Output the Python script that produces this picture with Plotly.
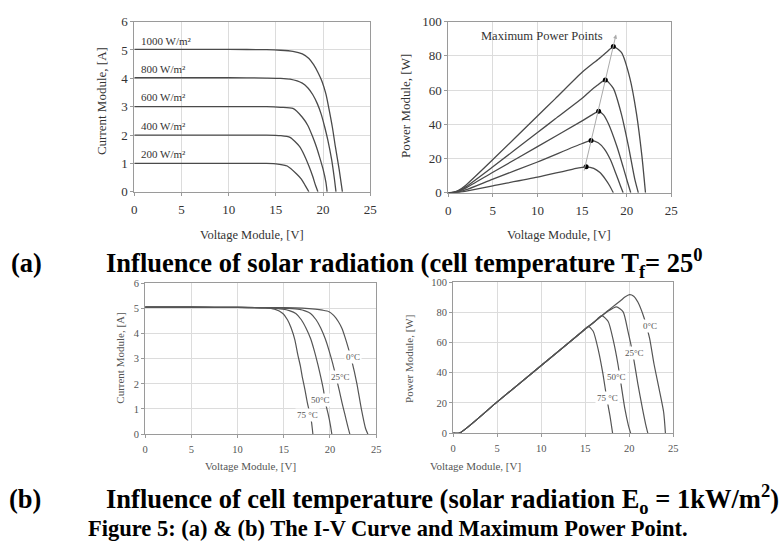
import plotly.graph_objects as go

W, H = 784, 552

# ---------------- data: (a) irradiance ----------------
irr_labels = ["1000 W/m²", "800 W/m²", "600 W/m²", "400 W/m²", "200 W/m²"]
irr_label_I = [5.33, 4.33, 3.33, 2.33, 1.33]

iv_V = [
    [0, 5, 10, 14, 15.5, 16.8, 17.8, 18.5, 19.0, 19.5, 19.9, 20.3, 20.6, 21.0, 21.3, 21.7, 22.05],
    [0, 5, 10, 14, 15.5, 16.5, 17.8, 18.4, 18.9, 19.4, 19.8, 20.2, 20.5, 20.9, 21.2, 21.37],
    [0, 5, 10, 14, 15.5, 16.8, 17.8, 18.4, 18.9, 19.3, 19.6, 20.0, 20.3, 20.43],
    [0, 5, 10, 14, 15.5, 16.5, 17.5, 18.0, 18.5, 18.9, 19.2, 19.46],
    [0, 5, 10, 14, 15.2, 16.2, 17.2, 17.7, 18.1, 18.5],
]
iv_I = [
    [5.02, 5.02, 5.02, 5.01, 4.99, 4.95, 4.86, 4.7, 4.48, 4.18, 3.88, 3.45, 2.97, 2.25, 1.6, 0.8, 0],
    [4.02, 4.02, 4.02, 4.01, 4.0, 3.97, 3.83, 3.66, 3.43, 3.1, 2.74, 2.25, 1.83, 1.15, 0.46, 0],
    [3.0, 3.0, 3.0, 3.0, 2.98, 2.94, 2.63, 2.33, 1.94, 1.58, 1.26, 0.8, 0.34, 0],
    [2.0, 2.0, 2.0, 2.0, 1.98, 1.92, 1.6, 1.3, 0.91, 0.55, 0.23, 0],
    [1.0, 1.0, 1.0, 1.0, 0.98, 0.91, 0.63, 0.45, 0.23, 0],
]

pv_V = [
    [0, 0.6, 1.2, 2, 5, 10, 12, 15, 16.85, 17.8, 18.5, 19.4, 20.35, 21.1, 21.7, 22.1],
    [0, 0.6, 1.2, 2, 5, 10, 12, 15, 15.7, 16.7, 17.6, 18.5, 19.4, 20.2, 20.9, 21.3],
    [0, 0.6, 1.2, 2, 5, 10, 15, 16, 16.85, 17.4, 17.95, 18.9, 19.6, 20.1, 20.45],
    [0, 0.6, 1.2, 2, 5, 10, 15, 16, 16.8, 17.5, 18.2, 18.8, 19.3, 19.6],
    [0, 0.6, 1.2, 2, 5, 10, 14, 15.45, 16.3, 17, 17.6, 18.1, 18.5],
]
pv_P = [
    [0, 0.4, 1.6, 4.6, 19.4, 44.9, 55, 70.4, 78.2, 82.4, 85.4, 82, 67, 46, 21.4, 0],
    [0, 0.3, 1.3, 3.6, 15.2, 35.2, 43.2, 55.2, 58.5, 62.8, 65.9, 61, 46, 27, 8, 0],
    [0, 0.2, 1.0, 2.9, 12, 27, 42, 45.2, 47.6, 45.5, 40.3, 27, 15, 6, 0],
    [0, 0.1, 0.6, 1.8, 8, 18, 28.8, 30.5, 29.2, 25.5, 19, 11, 4, 0],
    [0, 0.05, 0.3, 1.0, 4.1, 9.1, 13.9, 15.2, 14.3, 11.8, 8, 4, 0],
]
mpp_V = [18.5, 17.6, 16.85, 16.0, 15.45]
mpp_P = [85.4, 65.9, 47.6, 30.5, 15.2]
mpp_arrow = {"from": (15.0, 8.0), "to": (18.8, 92.4)}
mpp_text = "Maximum Power Points"

# ---------------- data: (b) temperature ----------------
temp_labels = ["0°C", "25°C", "50°C", "75 °C"]
temp_iv_label_pos = [(22.5, 3.05), (21.1, 2.28), (19.0, 1.35), (17.55, 0.76)]
temp_pv_label_pos = [(22.4, 71), (20.6, 53), (18.5, 37.4), (17.5, 23.4)]

t_iv_V = [
    [0, 5, 10, 15, 17, 18.4, 19.2, 19.9, 20.4, 20.9, 21.3, 21.65, 22.0, 22.35, 22.9, 23.4, 23.85, 24.1],
    [0, 5, 10, 14, 15.5, 16.7, 17.3, 17.9, 18.5, 19.0, 19.5, 19.9, 20.3, 20.65, 21.0, 21.3, 21.6, 21.9, 22.15],
    [0, 5, 10, 13, 14.9, 15.6, 16.3, 16.9, 17.4, 17.9, 18.3, 18.7, 19.0, 19.3, 19.5, 19.8, 20.05, 20.2],
    [0, 5, 10, 13, 14.0, 14.9, 15.4, 15.8, 16.2, 16.5, 16.8, 17.0, 17.3, 17.55, 17.8, 18.0, 18.15],
]
t_iv_I = [
    [5.05, 5.05, 5.04, 5.03, 5.01, 4.97, 4.93, 4.87, 4.72, 4.48, 4.2, 3.83, 3.4, 2.93, 2.03, 0.99, 0.22, 0],
    [5.05, 5.05, 5.04, 5.02, 5.0, 4.96, 4.9, 4.8, 4.55, 4.22, 3.78, 3.32, 2.8, 2.28, 1.75, 1.25, 0.8, 0.35, 0],
    [5.05, 5.05, 5.04, 5.02, 4.97, 4.91, 4.8, 4.55, 4.22, 3.8, 3.32, 2.75, 2.28, 1.75, 1.25, 0.8, 0.35, 0],
    [5.05, 5.05, 5.04, 5.02, 4.97, 4.8, 4.55, 4.22, 3.75, 3.19, 2.7, 2.28, 1.75, 1.25, 0.85, 0.48, 0],
]
t_pv_V = [
    [0, 0.72, 5, 10, 15, 17, 18, 19, 19.5, 20.03, 20.5, 20.97, 21.7, 22.3, 22.8, 23.4, 23.9, 24.1],
    [0, 0.72, 5, 10, 15, 16.5, 17.5, 18.54, 19.3, 19.85, 20.4, 20.96, 21.5, 21.85, 22.1],
    [0, 0.72, 5, 10, 15, 16, 16.86, 17.6, 18.2, 18.7, 19.1, 19.5, 19.9, 20.15],
    [0, 0.72, 5, 10, 14.5, 15.36, 15.9, 16.5, 17.0, 17.4, 17.8, 18.1],
]
t_pv_P = [
    [0, 0, 20.7, 44.8, 69, 78.5, 83.2, 87.8, 90.2, 91.8, 90.8, 86.9, 76, 63, 46, 28.8, 13.8, 0],
    [0, 0, 20.7, 44.8, 69, 76, 80.5, 83.7, 80.4, 67.5, 52.5, 33, 16, 6, 0],
    [0, 0, 20.7, 44.8, 69, 73.5, 77.9, 74, 61, 46, 31, 16, 5, 0],
    [0, 0, 20.7, 44.8, 66.5, 70.8, 67.5, 54.6, 39.5, 24.5, 11.6, 0],
]

x_ticks = [0, 5, 10, 15, 20, 25]
cap_a_tag = "(a)"
cap_b_tag = "(b)"
cap_a = "Influence of solar radiation (cell temperature T<sub>f</sub>= 25<sup>0</sup>"
cap_b = "Influence of cell temperature (solar radiation E<sub>o</sub> = 1kW/m<sup>2</sup>)"
cap_fig = "Figure 5: (a) &amp; (b) The I-V Curve and Maximum Power Point."

# ---------------- figure ----------------
SERIF = "Liberation Serif, Times New Roman, serif"
fig = go.Figure()


def px(x):
    return x / W


def py(y):
    return 1 - y / H


boxes = {
    "1": (133, 372, 15, 190),
    "2": (451, 677, 15, 191),
    "3": (144, 378, 284, 439),
    "4": (456, 679, 283, 438),
}
line_col_top = "#4a4a4a"
line_col_bot = "#555555"


def add_lines(Vs, Ys, axis, col, width):
    for v, y in zip(Vs, Ys):
        fig.add_trace(go.Scatter(x=v, y=y, mode="lines", xaxis="x" + axis, yaxis="y" + axis,
                                 line=dict(color=col, width=width, shape="spline", smoothing=0.6),
                                 showlegend=False, hoverinfo="skip"))


add_lines(iv_V, iv_I, "", line_col_top, 1.3)
add_lines(pv_V, pv_P, "2", line_col_top, 1.3)
add_lines(t_iv_V, t_iv_I, "3", line_col_bot, 1.2)
add_lines(t_pv_V, t_pv_P, "4", line_col_bot, 1.2)

fig.add_trace(go.Scatter(x=mpp_V, y=mpp_P, mode="markers", xaxis="x2", yaxis="y2",
                         marker=dict(color="black", size=5), showlegend=False, hoverinfo="skip"))


def axis_pair(key, yrange, ydtick, tickfont, standoff):
    x0, x1, y0, y1 = boxes[key]
    common = dict(showline=True, linecolor="#9a9a9a", linewidth=1, mirror=True,
                  showgrid=True, gridcolor="#dcdcdc", gridwidth=1, zeroline=False,
                  ticks="outside", ticklen=3, tickcolor="#9a9a9a", tickfont=tickfont)
    xa = dict(common, domain=[px(x0), px(x1)], range=[0, 25], tickvals=x_ticks,
              ticklabelstandoff=standoff)
    ya = dict(common, domain=[py(y1), py(y0)], range=yrange, dtick=ydtick)
    return xa, ya


top_font = dict(family=SERIF, size=13, color="#333333")
bot_font = dict(family=SERIF, size=10.5, color="#555555")

xa1, ya1 = axis_pair("1", [0, 6], 1, top_font, 3)
xa2, ya2 = axis_pair("2", [0, 100], 20, top_font, 3)
xa3, ya3 = axis_pair("3", [0, 6], 1, bot_font, 2)
xa4, ya4 = axis_pair("4", [0, 100], 20, bot_font, 2)
ya1["anchor"] = "x"; xa1["anchor"] = "y"
ya2["anchor"] = "x2"; xa2["anchor"] = "y2"
ya3["anchor"] = "x3"; xa3["anchor"] = "y3"
ya4["anchor"] = "x4"; xa4["anchor"] = "y4"

annotations = []


def ann(x, y, text, size, color="#333333", angle=0, xanchor="center", **kw):
    d = dict(x=x, y=y, text=text, showarrow=False, textangle=angle, xanchor=xanchor,
             yanchor="middle", font=dict(family=SERIF, size=size, color=color))
    d.update(kw)
    return d


for lab, yv in zip(irr_labels, irr_label_I):
    annotations.append(ann(0.5, yv, lab, 11, xref="x", yref="y", xanchor="left"))

for lab, (xv, yv) in zip(temp_labels, temp_iv_label_pos):
    annotations.append(ann(xv, yv, lab, 9, color="#555555", xref="x3", yref="y3", bgcolor="white"))
for lab, (xv, yv) in zip(temp_labels, temp_pv_label_pos):
    annotations.append(ann(xv, yv, lab, 9, color="#555555", xref="x4", yref="y4", bgcolor="white"))

annotations.append(dict(x=mpp_arrow["to"][0], y=mpp_arrow["to"][1], ax=mpp_arrow["from"][0],
                        ay=mpp_arrow["from"][1], xref="x2", yref="y2", axref="x2", ayref="y2",
                        showarrow=True, arrowhead=2, arrowsize=0.8, arrowwidth=1,
                        arrowcolor="#aaaaaa", text=" "))
annotations.append(ann(10.55, 91.5, mpp_text, 12.5, xref="x2", yref="y2"))

P = dict(xref="paper", yref="paper")
annotations.append(ann(px(100), py(97), "Current Module, [A]", 13, angle=-90, **P))
annotations.append(ann(px(407), py(102), "Power Module, [W]", 13, angle=-90, **P))
annotations.append(ann(px(252), py(234), "Voltage Module, [V]", 12.5, **P))
annotations.append(ann(px(563), py(234), "Voltage Module, [V]", 12.5, **P))
annotations.append(ann(px(119), py(361), "Current Module, [A]", 11, color="#555555", angle=-90, **P))
annotations.append(ann(px(411), py(362), "Power Module, [W]", 11, color="#555555", angle=-90, **P))
annotations.append(ann(px(251), py(472), "Voltage Module, [V]", 11, color="#555555", **P))
annotations.append(ann(px(479), py(472), "Voltage Module, [V]", 11, color="#555555", **P))

annotations.append(ann(px(6), py(263), "<b>" + cap_a_tag + "</b>", 26.5, color="black", xanchor="left", **P))
annotations.append(ann(px(102), py(263), "<b>" + cap_a + "</b>", 26.5, color="black", xanchor="left", **P))
annotations.append(ann(px(4), py(506), "<b>" + cap_b_tag + "</b>", 26.5, color="black", xanchor="left", **P))
annotations.append(ann(px(102), py(506), "<b>" + cap_b + "</b>", 26.5, color="black", xanchor="left", **P))
annotations.append(ann(px(390), py(536), "<b>" + cap_fig + "</b>", 22.5, color="black", **P))

fig.update_layout(
    width=W, height=H, autosize=False,
    margin=dict(l=0, r=0, t=0, b=0),
    paper_bgcolor="white", plot_bgcolor="white",
    xaxis=xa1, yaxis=ya1, xaxis2=xa2, yaxis2=ya2,
    xaxis3=xa3, yaxis3=ya3, xaxis4=xa4, yaxis4=ya4,
    annotations=annotations,
    font=dict(family=SERIF),
)

fig.write_html("out.html", config={"displayModeBar": False},
               post_script="document.body.style.margin='0px';document.body.style.overflow='hidden';")
